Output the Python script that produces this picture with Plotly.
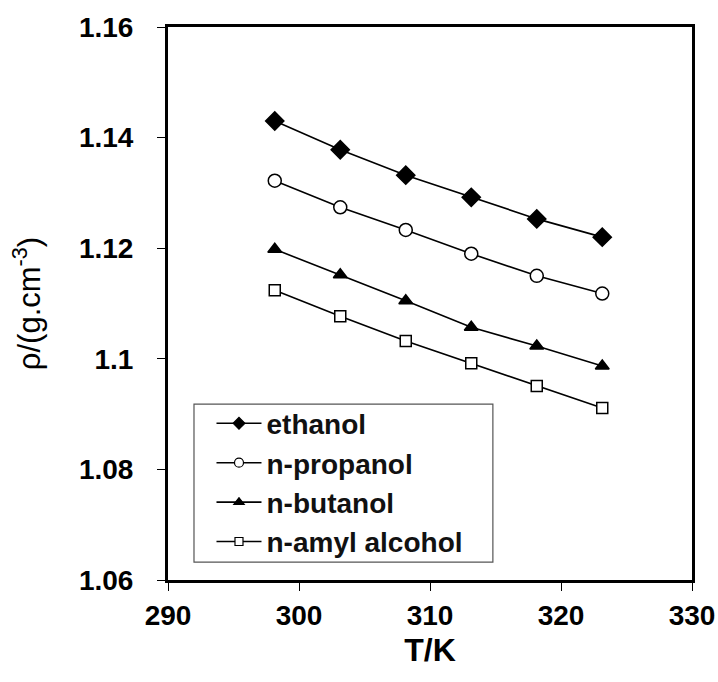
import plotly.graph_objects as go

T = [298.15, 303.15, 308.15, 313.15, 318.15, 323.15]
ethanol = [1.1430, 1.1378, 1.1332, 1.1292, 1.1253, 1.1220]
n_propanol = [1.1322, 1.1274, 1.1233, 1.1190, 1.1150, 1.1118]
n_butanol = [1.1198, 1.1152, 1.1105, 1.1057, 1.1023, 1.0987]
n_amyl = [1.1124, 1.1077, 1.1032, 1.0992, 1.0951, 1.0911]

series = [
    ("ethanol", ethanol, "diamond", "black", 14, 9),
    ("n-propanol", n_propanol, "circle", "white", 13, 9),
    ("n-butanol", n_butanol, "triangle-up", "black", 12, 9),
    ("n-amyl alcohol", n_amyl, "square", "white", 11, 8),
]

ytick_vals = [1.06, 1.08, 1.10, 1.12, 1.14, 1.16]
ytick_text = ["1.06", "1.08", "1.1", "1.12", "1.14", "1.16"]
xtick_vals = [290, 300, 310, 320, 330]

fig = go.Figure()
for i, (name, vals, sym, fill, size, lsize) in enumerate(series):
    fig.add_trace(go.Scatter(
        x=T, y=vals, name=name, mode="lines+markers", showlegend=False,
        line=dict(color="black", width=1.6),
        marker=dict(symbol=sym, size=size, color=fill,
                    line=dict(color="black", width=1.5)),
    ))
    # legend-only entry with the smaller legend marker
    fig.add_trace(go.Scatter(
        x=[None], y=[None], name=name, mode="lines+markers",
        legendgroup="g%d" % i,
        line=dict(color="black", width=1.6),
        marker=dict(symbol=sym, size=lsize, color=fill,
                    line=dict(color="black", width=1.2)),
    ))

font_family = "Liberation Sans, Arial, sans-serif"
fig.update_layout(
    width=718, height=682,
    margin=dict(l=168, r=26, t=27, b=102),
    paper_bgcolor="white", plot_bgcolor="white",
    font=dict(family=font_family, color="black"),
    showlegend=True,
    legend=dict(
        x=0.083, y=0.328, xanchor="left", yanchor="top",
        bgcolor="rgba(0,0,0,0)", borderwidth=0,
        font=dict(family=font_family, size=28, color="#111111", weight="bold"),
        tracegroupgap=0, itemwidth=45,
    ),
    shapes=[dict(
        type="rect", xref="paper", yref="paper",
        x0=0.0496, x1=0.620, y0=0.0325, y1=0.318,
        line=dict(color="#555555", width=1.2), fillcolor="white", layer="below",
    )],
    xaxis=dict(
        range=[290, 330], tickvals=xtick_vals, automargin=False,
        showline=True, linecolor="black", linewidth=3, mirror=True,
        ticks="outside", ticklen=8, tickwidth=1, tickcolor="black",
        showgrid=False, zeroline=False,
        tickfont=dict(size=28, weight="bold"),
        ticklabelstandoff=0, ticklabeloverflow="allow",
        title=dict(text="T/K", font=dict(size=32, weight="bold"), standoff=10),
    ),
    yaxis=dict(
        range=[1.06, 1.16], tickvals=ytick_vals, ticktext=ytick_text,
        automargin=False,
        showline=True, linecolor="black", linewidth=3, mirror=True,
        ticks="outside", ticklen=8, tickwidth=1, tickcolor="black",
        showgrid=False, zeroline=False,
        tickfont=dict(size=28, weight="bold"),
        ticklabelstandoff=18,
        title=dict(text="ρ/(g.cm<sup>-3</sup>)", font=dict(size=31), standoff=30),
    ),
)

fig.write_html("out.html")
